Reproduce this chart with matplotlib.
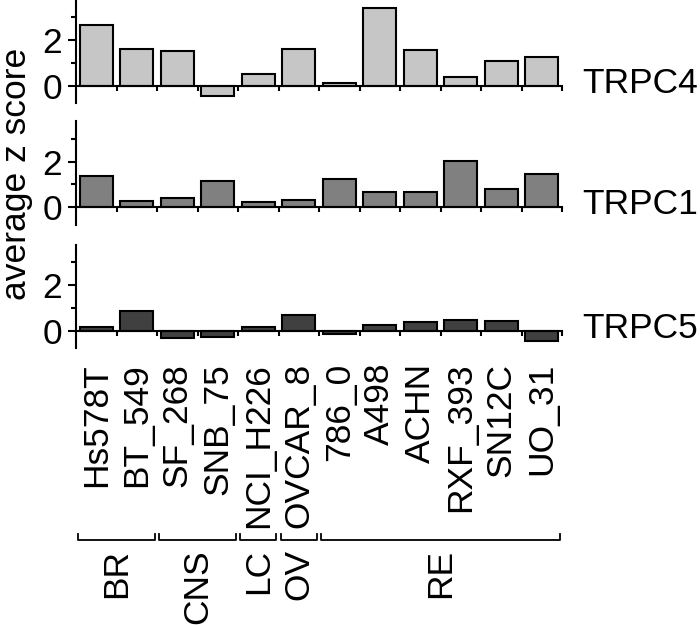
import numpy as np
import matplotlib
matplotlib.use("Agg")
import matplotlib.pyplot as plt
import matplotlib.transforms as mtransforms

plt.rcParams['font.family'] = ['Liberation Sans', 'DejaVu Sans']

cell_lines = ['Hs578T', 'BT_549', 'SF_268', 'SNB_75', 'NCI_H226', 'OVCAR_8',
              '786_0', 'A498', 'ACHN', 'RXF_393', 'SN12C', 'UO_31']
trpc4 = [2.65, 1.63, 1.53, -0.45, 0.51, 1.63, 0.12, 3.38, 1.56, 0.40, 1.07, 1.24]
trpc1 = [1.36, 0.28, 0.40, 1.13, 0.24, 0.34, 1.22, 0.67, 0.65, 2.01, 0.78, 1.45]
trpc5 = [0.16, 0.87, -0.30, -0.28, 0.17, 0.70, -0.12, 0.25, 0.38, 0.48, 0.42, -0.45]
series_names = ['TRPC4', 'TRPC1', 'TRPC5']
series_colors = ['#c6c6c6', '#808080', '#404040']

group_names = ['BR', 'CNS', 'LC', 'OV', 'RE']
group_start = [0, 2, 4, 5, 6]
group_end = [1, 3, 4, 5, 11]

FS = 25.5
fig = plt.figure(figsize=(7, 6.25), dpi=100)
W, H = 700.0, 625.0
left = 76 / W
width = (562 - 76) / W
height = 103 / H
bottoms_px = [103, 224.5, 348]

x = np.arange(len(cell_lines))
axes = []
for i, (vals, name, col) in enumerate(zip([trpc4, trpc1, trpc5], series_names, series_colors)):
    ax = fig.add_axes([left, 1 - bottoms_px[i] / H, width, height])
    axes.append(ax)
    ax.bar(x, vals, width=0.82, color=col, edgecolor='black', linewidth=1.5, zorder=2)
    ax.set_xlim(-0.5, 11.5)
    ax.set_ylim(-0.75, 3.75)
    for s in ['top', 'right']:
        ax.spines[s].set_visible(False)
    ax.spines['bottom'].set_position(('data', 0))
    ax.spines['bottom'].set_zorder(3)
    ax.spines['bottom'].set_linewidth(1.5)
    ax.spines['left'].set_linewidth(1.5)
    ax.set_yticks([0, 2])
    ax.set_yticks([1, 3], minor=True)
    ax.tick_params(axis='y', which='major', length=6, width=1.5, labelsize=FS, pad=4)
    ax.tick_params(axis='y', which='minor', length=3.5, width=1.5)
    ax.set_xticks(x)
    ax.set_xticks(np.arange(0.5, 12, 1), minor=True)
    ax.tick_params(axis='x', which='minor', length=3.5, width=1.5, direction='out')
    ax.tick_params(axis='x', which='major', length=0)
    if i < 2:
        ax.set_xticklabels([])
    else:
        ax.set_xticklabels(cell_lines, rotation=90, fontsize=FS)
        ax.tick_params(axis='x', which='major', pad=23)
    ax.annotate(name, xy=(1, 0), xycoords=('axes fraction', 'data'),
                xytext=(14.4, -5), textcoords='offset points',
                ha='left', va='baseline', fontsize=FS, annotation_clip=False)

axb = axes[2]
trans = mtransforms.blended_transform_factory(axb.transData, fig.transFigure)
yb = 1 - 540 / H
yt = 1 - 534 / H
ylab = 1 - 549 / H
for g, s, e in zip(group_names, group_start, group_end):
    x0 = s - 0.5 + 0.05
    x1 = e + 0.5 - 0.05
    axb.plot([x0, x0, x1, x1], [yt, yb, yb, yt], color='black', lw=1.3,
             transform=trans, clip_on=False)
    axb.text((s + e) / 2, ylab, g, rotation=90, ha='center', va='top',
             fontsize=FS, transform=trans)

fig.text(0.0, 1 - 174 / H, 'average z score', rotation=90, ha='left', va='center',
         fontsize=FS)

fig.savefig('out.png', dpi=100)
